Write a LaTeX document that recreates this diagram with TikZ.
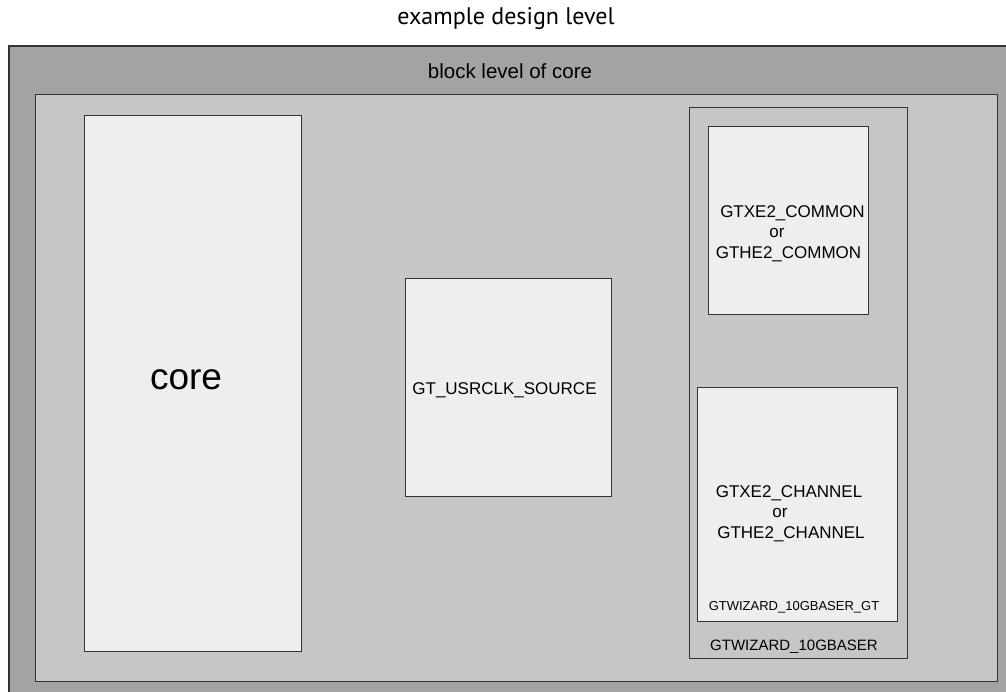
\documentclass[tikz,border=0pt]{standalone}
\usepackage{fontspec}
\setmainfont{Liberation Sans}
\newfontfamily\titlefont{PT Sans}
\definecolor{outerfill}{HTML}{A3A3A3}
\definecolor{blockfill}{HTML}{C6C6C6}
\definecolor{boxfill}{HTML}{EEEEEE}
\definecolor{edgecol}{HTML}{333333}
\tikzset{
  region/.style={draw=edgecol, line width=1pt, inner sep=0pt, outer sep=0pt, anchor=center},
  lbl/.style={inner sep=0pt, anchor=center, text=black},
}
\begin{document}
\begin{tikzpicture}[x=1pt,y=-1pt]
\useasboundingbox (0,0) rectangle (1006,692);
\clip (0,0) rectangle (1006,692);
\fill[white] (0,0) rectangle (1006,692);
\node[region, fill=outerfill, line width=1.6pt, minimum width=1003pt, minimum height=654pt] (outer) at (510.5,373) {};
\node[region, fill=blockfill, minimum width=962pt, minimum height=586pt] (block) at (516,388) {};
\node[region, fill=boxfill, minimum width=217pt, minimum height=535pt] (core) at (192.5,383.5) {};
\node[region, fill=boxfill, minimum width=206pt, minimum height=217pt] (usrclk) at (508,387.5) {};
\node[region, fill=blockfill, minimum width=218pt, minimum height=550pt] (wizard) at (798,383) {};
\node[region, fill=boxfill, minimum width=160pt, minimum height=188pt] (common) at (788,221) {};
\node[region, fill=boxfill, minimum width=200pt, minimum height=234pt] (channel) at (797,504) {};

\node[lbl, font=\titlefont\fontsize{24}{28}\selectfont] (title) at (506,19) {example design level};
\node[lbl, font=\fontsize{20.5}{24}\selectfont] (blocklbl) at (510,71) {block level of core};
\node[lbl, font=\fontsize{37}{42}\selectfont] (corelbl) at (186,380) {core};
\node[lbl, font=\fontsize{17}{20}\selectfont] (usrclklbl) at (504.5,390) {GT\_USRCLK\_SOURCE};
\node[lbl, font=\fontsize{17}{20}\selectfont] (cm1) at (792.5,213) {GTXE2\_COMMON};
\node[lbl, font=\fontsize{17}{20}\selectfont] (cm2) at (777,233) {or};
\node[lbl, font=\fontsize{17}{20}\selectfont] (cm3) at (788.5,254) {GTHE2\_COMMON};
\node[lbl, font=\fontsize{17}{20}\selectfont] (ch1) at (789,493) {GTXE2\_CHANNEL};
\node[lbl, font=\fontsize{17}{20}\selectfont] (ch2) at (780,513) {or};
\node[lbl, font=\fontsize{17}{20}\selectfont] (ch3) at (791,534) {GTHE2\_CHANNEL};
\node[lbl, font=\fontsize{13}{15}\selectfont] (gtlbl) at (794,607) {GTWIZARD\_10GBASER\_GT};
\node[lbl, font=\fontsize{15}{18}\selectfont] (wizlbl) at (794,647) {GTWIZARD\_10GBASER};
\end{tikzpicture}
\end{document}
